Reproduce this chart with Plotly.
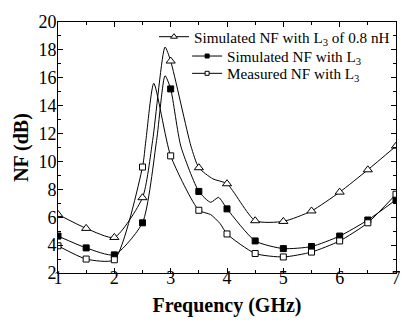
import plotly.graph_objects as go

# Marker positions (GHz) and values (dB)
freq = [1, 1.5, 2, 2.5, 3, 3.5, 4, 4.5, 5, 5.5, 6, 6.5, 7]
nf_sim_l3_08 = [6.2, 5.2, 4.55, 7.4, 17.2, 9.55, 8.4, 5.75, 5.7, 6.45, 7.8, 9.4, 11.1]
nf_sim_l3 = [4.65, 3.8, 3.3, 5.6, 15.2, 7.85, 6.6, 4.3, 3.75, 3.9, 4.65, 5.8, 7.25]
nf_meas_l3 = [3.95, 3.0, 2.95, 9.6, 10.4, 6.5, 4.8, 3.4, 3.15, 3.5, 4.3, 5.6, 7.65]

# Extra points (peaks, shoulders)
extra_sim_l3_08_f = [2.68, 2.9, 3.36, 3.75]
extra_sim_l3_08_v = [11.5, 18.2, 11.1, 8.75]
extra_sim_l3_f = [2.75, 2.9, 3.18, 3.71, 3.85]
extra_sim_l3_v = [11.5, 16.15, 11.1, 7.07, 7.42]
extra_meas_l3_f = [2.56, 2.70, 3.71, 3.88]
extra_meas_l3_v = [11.5, 15.6, 6.19, 5.53]

names = ["Simulated NF with L<sub>3</sub> of 0.8 nH",
         "Simulated NF with L<sub>3</sub>",
         "Measured NF with L<sub>3</sub>"]

FONT = "Liberation Serif"


def curve(f_extra, v_extra, vals):
    pts = sorted(list(zip(freq, vals)) + list(zip(f_extra, v_extra)))
    return [p[0] for p in pts], [p[1] for p in pts]


series = [
    (nf_sim_l3_08, extra_sim_l3_08_f, extra_sim_l3_08_v, "triangle-up", "white", 8, "legend"),
    (nf_sim_l3, extra_sim_l3_f, extra_sim_l3_v, "square", "black", 6, "legend2"),
    (nf_meas_l3, extra_meas_l3_f, extra_meas_l3_v, "square", "white", 6, "legend3"),
]

fig = go.Figure()
for i, (vals, fe, ve, sym, fill, size, lg) in enumerate(series):
    cx, cy = curve(fe, ve, vals)
    fig.add_trace(go.Scatter(x=cx, y=cy, mode="lines",
                             line=dict(color="black", width=1, shape="spline", smoothing=0.6),
                             showlegend=False, hoverinfo="skip"))
    fig.add_trace(go.Scatter(x=freq, y=vals, mode="markers",
                             marker=dict(symbol=sym, size=size, color=fill,
                                         line=dict(color="black", width=1)),
                             showlegend=False))
    fig.add_trace(go.Scatter(x=[None], y=[None], mode="lines+markers", name=names[i],
                             line=dict(color="black", width=1),
                             marker=dict(symbol=sym, size=size - 2, color=fill,
                                         line=dict(color="black", width=1)),
                             legend=lg))

axis_common = dict(showline=True, linecolor="black", linewidth=1, mirror="ticks",
                   ticks="inside", ticklen=5, tickwidth=1, tickcolor="black",
                   showgrid=False, zeroline=False, automargin=False,
                   ticklabeloverflow="allow",
                   tickfont=dict(family=FONT, size=18, color="black"))

fig.update_xaxes(range=[1, 7], dtick=1, tick0=1, ticklabelstandoff=-12,
                 minor=dict(dtick=0.5, ticks="inside", ticklen=3, tickcolor="black"),
                 title=dict(text="<b>Frequency (GHz)</b>", font=dict(family=FONT, size=20, color="black"),
                            standoff=11),
                 **axis_common)
fig.update_yaxes(range=[2, 20], dtick=2, tick0=2, ticklabelstandoff=-3,
                 minor=dict(dtick=1, ticks="inside", ticklen=3, tickcolor="black"),
                 title=dict(text="<b>NF (dB)</b>", font=dict(family=FONT, size=20, color="black"),
                            standoff=4),
                 **axis_common)

legend_common = dict(font=dict(family=FONT, size=15.2, color="black"), bgcolor="rgba(0,0,0,0)",
                     borderwidth=0, itemwidth=30, tracegroupgap=0, itemsizing="trace",
                     xanchor="left", yanchor="middle")
fig.update_layout(
    width=400, height=312,
    margin=dict(l=50, r=12, t=12, b=47),
    paper_bgcolor="white", plot_bgcolor="white",
    font=dict(family=FONT, color="black"),
    legend=dict(x=0.284, y=0.941, **legend_common),
    legend2=dict(x=0.382, y=0.864, **legend_common),
    legend3=dict(x=0.382, y=0.795, **legend_common),
    showlegend=True,
)

fig.write_html("out.html")
